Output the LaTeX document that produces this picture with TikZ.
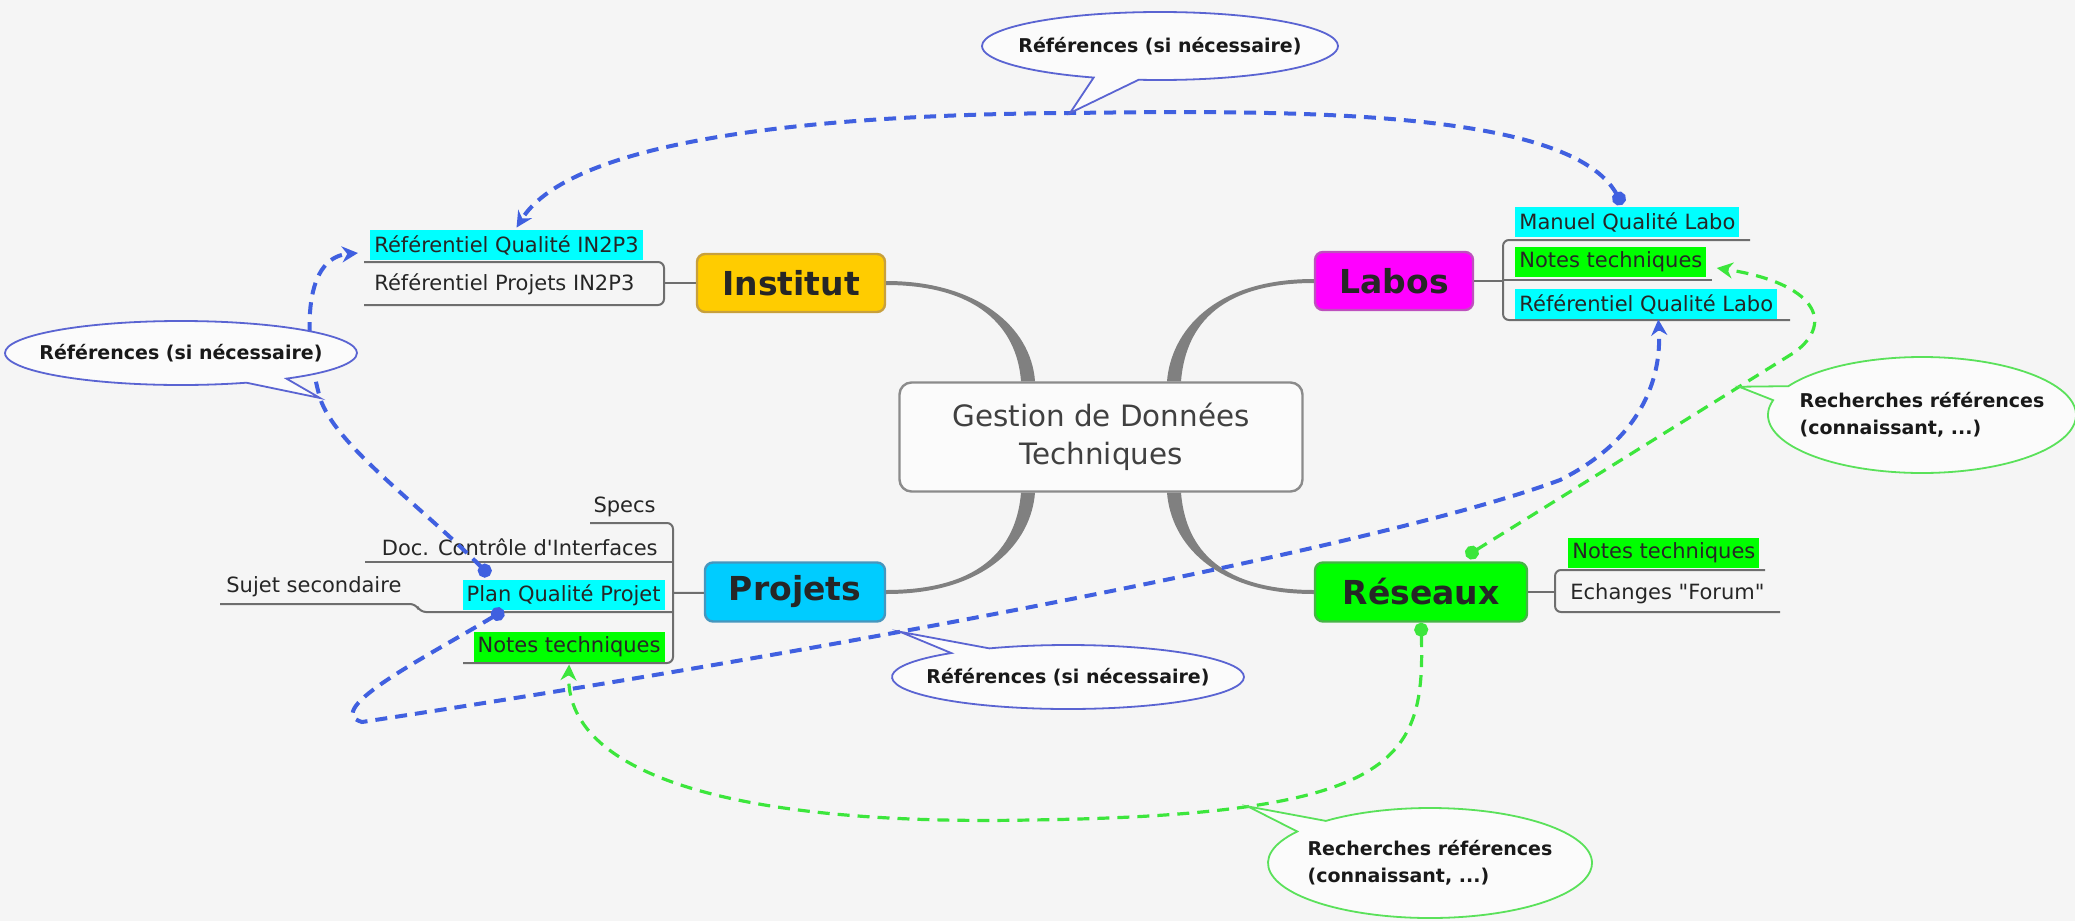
\documentclass[tikz,border=0pt]{standalone}
\usepackage{fontspec}
\setmainfont{DejaVu Sans}
\newfontfamily\rawfont{DejaVu Sans}
\usetikzlibrary{calc,arrows.meta,shapes.callouts}

\definecolor{bgcol}{RGB}{245,245,245}
\definecolor{hlcyan}{RGB}{0,255,255}
\definecolor{hlgreen}{RGB}{0,255,0}
\definecolor{instfill}{RGB}{255,204,0}
\definecolor{instline}{RGB}{200,160,60}
\definecolor{labfill}{RGB}{255,0,255}
\definecolor{labline}{RGB}{190,80,190}
\definecolor{projfill}{RGB}{0,204,255}
\definecolor{projline}{RGB}{70,150,190}
\definecolor{resfill}{RGB}{0,255,0}
\definecolor{resline}{RGB}{70,180,70}
\definecolor{branchgray}{RGB}{128,128,128}
\definecolor{linegray}{RGB}{110,110,110}
\definecolor{linkblue}{RGB}{64,96,224}
\definecolor{linkgreen}{RGB}{60,230,60}
\definecolor{calloutblue}{RGB}{90,100,210}
\definecolor{calloutgreen}{RGB}{90,225,90}

\tikzset{
  topic/.style={draw, rounded corners=4pt, line width=1.2pt, inner sep=0pt,
    font=\fontsize{16.5}{19}\selectfont\bfseries, text=black!85},
  sub/.style={inner xsep=2pt, inner ysep=0pt, minimum height=15pt,
    font=\fontsize{10.5}{12.6}\selectfont, text=black!85},
  cyanbox/.style={sub, fill=hlcyan},
  greenbox/.style={sub, fill=hlgreen},
  uline/.style={draw=linegray, line width=1pt, rounded corners=3pt},
  branch/.style={fill=branchgray},
  rellink/.style={dash pattern=on 6pt off 4pt,
    arrows={Circle[length=7pt]-Stealth[length=8pt,width=8pt]}},
  bluelink/.style={rellink, draw=linkblue, line width=2pt},
  greenlink/.style={rellink, draw=linkgreen, line width=1.6pt},
  bubble/.style={ellipse callout, fill=bgcol!40!white, line width=0.9pt, inner sep=0pt},
  bubbletext/.style={font=\fontsize{9.5}{13.5}\selectfont\bfseries, text=black!90, align=left}
}

\begin{document}
\begin{tikzpicture}[x=0.5pt,y=-0.5pt]
\useasboundingbox (0,0) rectangle (2075,921);
\fill[bgcol] (0,0) rectangle (2075,921);

\node[draw=linegray!80, line width=1.2pt, rounded corners=6pt, fill=white!60!bgcol,
      minimum width=201.5pt, minimum height=54.5pt, align=center,
      font=\fontsize{14.7}{19}\selectfont, text=black!75]
    (gdt) at (1101,437) {Gestion de Données\\Techniques};

\node[topic, fill=instfill, draw=instline, minimum width=94pt, minimum height=29pt]
    (institut) at (791,283) {Institut};
\node[topic, fill=labfill, draw=labline, minimum width=79pt, minimum height=29pt]
    (labos) at (1394,281) {Labos};
\node[topic, fill=projfill, draw=projline, minimum width=90pt, minimum height=29.5pt]
    (projets) at (795,592) {Projets};
\node[topic, fill=resfill, draw=resline, minimum width=106pt, minimum height=29.5pt]
    (reseaux) at (1421,592) {Réseaux};

\fill[branch] ($(institut.east)+(0,-2)$) .. controls +(90,0) and +(-4,-55) .. ($(gdt.north)+(-66,0)$)
    -- ($(gdt.north)+(-80,0)$) .. controls +(-4,-55) and +(90,0) .. ($(institut.east)+(0,2)$) -- cycle;
\fill[branch] ($(labos.west)+(0,-2)$) .. controls +(-100,0) and +(4,-50) .. ($(gdt.north)+(66,0)$)
    -- ($(gdt.north)+(80,0)$) .. controls +(4,-50) and +(-100,0) .. ($(labos.west)+(0,2)$) -- cycle;
\fill[branch] ($(projets.east)+(0,-2)$) .. controls +(100,0) and +(-4,50) .. ($(gdt.south)+(-80,0)$)
    -- ($(gdt.south)+(-66,0)$) .. controls +(-4,50) and +(100,0) .. ($(projets.east)+(0,2)$) -- cycle;
\fill[branch] ($(reseaux.west)+(0,-2)$) .. controls +(-100,0) and +(4,50) .. ($(gdt.south)+(80,0)$)
    -- ($(gdt.south)+(66,0)$) .. controls +(4,50) and +(-100,0) .. ($(reseaux.west)+(0,2)$) -- cycle;

\node[cyanbox, anchor=west] (refqual) at (370,245) {Référentiel Qualité IN2P3};
\node[sub, anchor=west] (refproj) at (370,284) {Référentiel Projets IN2P3};
\node[cyanbox, anchor=west] (manuel) at (1515,222) {Manuel Qualité Labo};
\node[greenbox, anchor=west] (notesL) at (1515,262) {Notes techniques};
\node[cyanbox, anchor=west] (refqualL) at (1515,304) {Référentiel Qualité Labo};
\node[greenbox, anchor=west] (notesR) at (1568,553) {Notes techniques};
\node[sub, anchor=west] (forum) at (1566,594) {\rawfont Echanges "Forum"};
\node[sub, anchor=east] (specs) at (660,507) {Specs};
\node[sub, anchor=east] (doc) at (662,547) {\rawfont Doc. Contrôle d'Interfaces};
\node[cyanbox, anchor=east] (plan) at (665,595) {Plan Qualité Projet};
\node[sub, anchor=west] (sujet) at (222,587) {Sujet secondaire};
\node[greenbox, anchor=east] (notesP) at (665,647) {Notes techniques};

\draw[uline] (364,262) -- (664,262) -- (664,305) -- (364,305);
\coordinate (instjoin) at (664,283);
\draw[uline] (instjoin) -- (institut);

\draw[uline] (1750,240) -- (1503,240) -- (1503,320) -- (1790,320);
\draw[uline] (1503,280) -- (1712,280);
\coordinate (labjoin) at (1503,281);
\draw[uline] (labos) -- (labjoin);

\draw[uline] (1765,570) -- (1555,570) -- (1555,612) -- (1780,612);
\coordinate (resjoin) at (1555,592);
\draw[uline] (reseaux) -- (resjoin);

\draw[uline] (590,523) -- (673,523) -- (673,663) -- (463,663);
\draw[uline] (365,562) -- (673,562);
\draw[uline] (220,604) -- (416,604) -- (420,612) -- (673,612);
\coordinate (projjoin) at (673,593);
\draw[uline] (projjoin) -- (projets);

\coordinate (tipA) at (1070,113);
\coordinate (tipB) at (320,398);
\draw[bluelink] ([xshift=-2.5pt,yshift=1pt]manuel.north) .. controls (1570,110) and (1300,110) .. (tipA)
    .. controls (760,115) and (565,150) .. ([xshift=5pt,yshift=1pt]refqual.north);
\draw[bluelink] ([xshift=-37pt,yshift=2pt]plan.north) .. controls (420,505) and (335,445) .. (tipB)
    .. controls (305,345) and (300,258) .. ([xshift=-6pt,yshift=-4pt]refqual.west);
\draw[bluelink] ([xshift=-30pt]plan.south) .. controls (430,655) and (320,710) .. (362,722)
    .. controls (900,640) and (1400,540) .. (1560,480) coordinate[pos=0.35] (tipC)
    .. controls (1640,440) and (1662,380) .. ([xshift=6pt]refqualL.south);
\draw[greenlink] ([xshift=22.5pt,yshift=2.5pt]reseaux.north) -- (1795,352) coordinate[pos=0.83] (tipD)
    .. controls (1835,322) and (1815,283) .. ([xshift=5pt,yshift=-3pt]notesL.east);
\draw[greenlink] (reseaux.south) .. controls (1425,760) and (1400,815) .. (1030,820) coordinate[pos=0.75] (tipE)
    .. controls (720,826) and (565,770) .. ([yshift=-1pt]notesP.south);

\node[bubble, draw=calloutblue, minimum width=178pt, minimum height=34pt,
      callout absolute pointer={(tipA)}] (callA) at (1160,46) {};
\node[bubbletext] (callAtext) at (callA) {Références (si nécessaire)};
\node[bubble, draw=calloutblue, minimum width=176pt, minimum height=32pt,
      callout absolute pointer={(tipB)}] (callB) at (181,353) {};
\node[bubbletext] (callBtext) at (callB) {Références (si nécessaire)};
\node[bubble, draw=calloutblue, minimum width=176pt, minimum height=32pt,
      callout absolute pointer={(tipC)}] (callC) at (1068,677) {};
\node[bubbletext] (callCtext) at (callC) {Références (si nécessaire)};
\node[bubble, draw=calloutgreen, minimum width=154pt, minimum height=58pt,
      callout absolute pointer={(tipD)}] (callD) at (1922,415) {};
\node[bubbletext] (callDtext) at (callD) {Recherches références\\(connaissant, ...)};
\node[bubble, draw=calloutgreen, minimum width=162pt, minimum height=55pt,
      callout absolute pointer={(tipE)}] (callE) at (1430,863) {};
\node[bubbletext] (callEtext) at (callE) {Recherches références\\(connaissant, ...)};
\end{tikzpicture}
\end{document}
